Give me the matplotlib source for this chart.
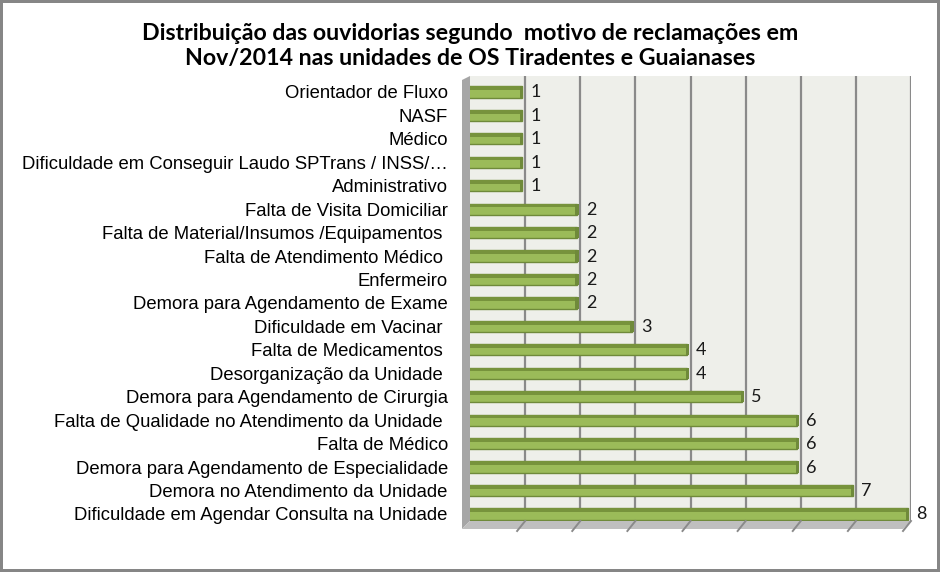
import matplotlib
matplotlib.use('Agg')
import matplotlib.pyplot as plt
from matplotlib.patches import Polygon

# dados (de baixo para cima)
motivos = [
    'Dificuldade em Agendar Consulta na Unidade',
    'Demora no Atendimento da Unidade',
    'Demora para Agendamento de Especialidade',
    'Falta de Médico',
    'Falta de Qualidade no Atendimento da Unidade ',
    'Demora para Agendamento de Cirurgia',
    'Desorganização da Unidade ',
    'Falta de Medicamentos ',
    'Dificuldade em Vacinar ',
    'Demora para Agendamento de Exame',
    'Enfermeiro',
    'Falta de Atendimento Médico ',
    'Falta de Material/Insumos /Equipamentos ',
    'Falta de Visita Domiciliar',
    'Administrativo',
    'Dificuldade em Conseguir Laudo SPTrans / INSS/…',
    'Médico',
    'NASF',
    'Orientador de Fluxo',
]
quantidade = [8, 7, 6, 6, 6, 5, 4, 4, 3, 2, 2, 2, 2, 2, 1, 1, 1, 1, 1]

titulo = ('Distribuição das ouvidorias segundo  motivo de reclamações em\n'
          'Nov/2014 nas unidades de OS Tiradentes e Guaianases')

W, H = 940, 572
fig = plt.figure(figsize=(W / 100, H / 100), dpi=100)
fig.patch.set_facecolor('white')
fig.patch.set_edgecolor('#868686')
fig.patch.set_linewidth(3)

# eixo: parede de fundo de x=470 a 911, y=76 a 521 (pixels)
x0, x1, ytop, ybot = 470, 911, 76, 521
ax = fig.add_axes([x0 / W, 1 - ybot / H, (x1 - x0) / W, (ybot - ytop) / H])
ax.set_facecolor('#EEEFEA')
ax.set_xlim(0, 8)
ax.set_ylim(-0.3, 18.68)
for s in ax.spines.values():
    s.set_visible(False)

for g in range(1, 9):
    ax.axvline(g, color='#8A8A8A', lw=1.6, zorder=1)

def fpx(px, py):
    return (px / W, 1 - py / H)

# parede esquerda e piso
fig.patches.append(Polygon([fpx(462, 80), fpx(470, ytop), fpx(470, ybot), fpx(462, 529)],
                           closed=True, transform=fig.transFigure, facecolor='#A6A6A6',
                           edgecolor='none', zorder=0))
fig.patches.append(Polygon([fpx(462, 529), fpx(470, ybot), fpx(x1, ybot), fpx(903, 529)],
                           closed=True, transform=fig.transFigure, facecolor='#BFBFBF',
                           edgecolor='none', zorder=0))
unit = (x1 - x0) / 8
for g in range(1, 9):
    gx = x0 + g * unit
    fig.lines.append(plt.Line2D([gx / W, (gx - 8) / W], [1 - ybot / H, 1 - 531 / H],
                                transform=fig.transFigure, color='#8A8A8A', lw=1.4))

# barras 3D aproximadas
ys = list(range(len(motivos)))
sh = -0.09
h = 0.48
for y, v in zip(ys, quantidade):
    ax.barh(y, v + 0.03, left=sh, height=h, color='#9BBB59',
            edgecolor='#6F8A3A', lw=1.0, zorder=3)
    ax.barh(y + h / 2 - 0.08, v + 0.03, left=sh, height=0.16, color='#77933C',
            edgecolor='none', zorder=4)
    ax.barh(y, 0.06, left=sh + v, height=h, color='#6F8A3A',
            edgecolor='none', zorder=4)
    ax.text(v + 0.1, y - 0.02, str(v), va='center', ha='left', fontsize=13,
            family='Lato', color='#1a1a1a', clip_on=False, zorder=5)

ax.set_yticks(ys)
ax.set_yticklabels(motivos, fontsize=13.3, family='Liberation Sans', color='black')
ax.tick_params(axis='y', length=0, pad=16)
ax.set_xticks([])

fig.text(0.5, 1 - 46 / H, titulo, ha='center', va='center', fontsize=16.7,
         fontweight='bold', family='Lato', linespacing=1.25)

fig.savefig('out.png', dpi=100)
